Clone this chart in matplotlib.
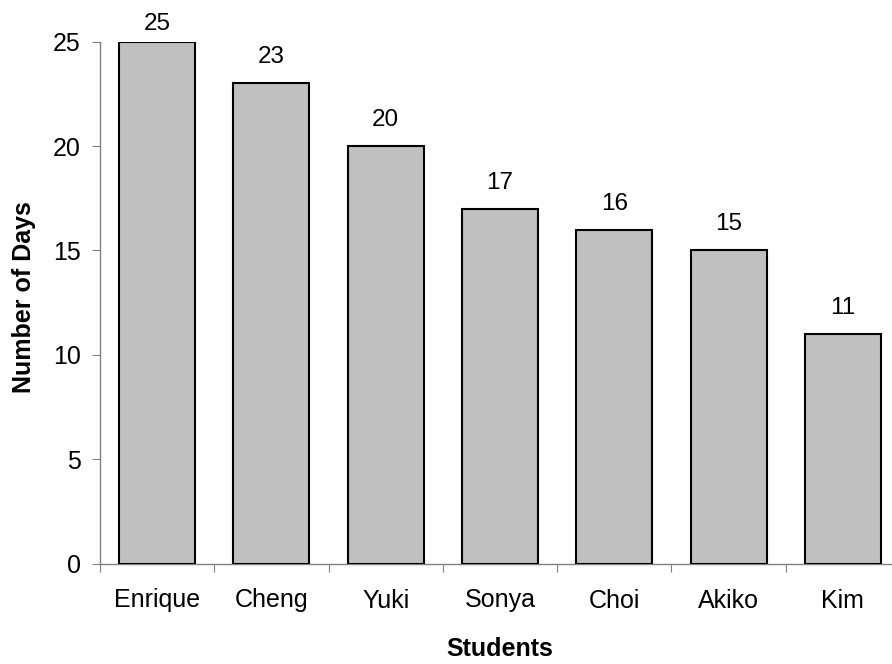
import matplotlib
matplotlib.use('Agg')
import matplotlib.pyplot as plt
import numpy as np

students = ['Enrique', 'Cheng', 'Yuki', 'Sonya', 'Choi', 'Akiko', 'Kim']
days = [25, 23, 20, 17, 16, 15, 11]

plt.rcParams['font.family'] = ['Liberation Sans', 'DejaVu Sans']

fig = plt.figure(figsize=(8.92, 6.64), dpi=100)
ax = fig.add_axes([100/892, 1 - 563.5/664, 800/892, (563.5 - 41.7)/664])

ymax = 25
x = np.arange(len(students))
ax.bar(x, days, width=0.665, color='#c0c0c0', edgecolor='black', linewidth=1.5, zorder=3)
# labels sit above the bars, but get pushed down near the top like excel does
for xi, d in zip(x, days):
    ax.text(xi, min(d + 0.96, ymax + 0.58), str(d), ha='center', va='baseline',
            fontsize=17.5, clip_on=False)

ax.set_xlim(-0.5, len(students) - 0.5)
ax.set_ylim(0, ymax)
ax.set_yticks([0, 5, 10, 15, 20, 25])
ax.set_xticks(np.arange(-0.5, len(students), 1.0))
ax.set_xticklabels([])
ax.set_xticks(x, minor=True)
ax.set_xticklabels(students, minor=True)
ax.tick_params(axis='x', which='minor', length=0, labelsize=18, pad=18)
ax.tick_params(axis='x', which='major', length=6, color='#808080', direction='out')
ax.tick_params(axis='y', length=6, color='#808080', labelsize=18, pad=8)

for s in ['top', 'right']:
    ax.spines[s].set_visible(False)
for s in ['left', 'bottom']:
    ax.spines[s].set_color('#808080')
    ax.spines[s].set_linewidth(1.0)
ax.spines['bottom'].set_clip_on(False)

ax.set_xlabel('Students', fontsize=18, fontweight='bold', labelpad=18)
ax.set_ylabel('Number of Days', fontsize=18, fontweight='bold')
ax.yaxis.set_label_coords(-64/800, 0.51)

fig.savefig('out.png', dpi=100)
